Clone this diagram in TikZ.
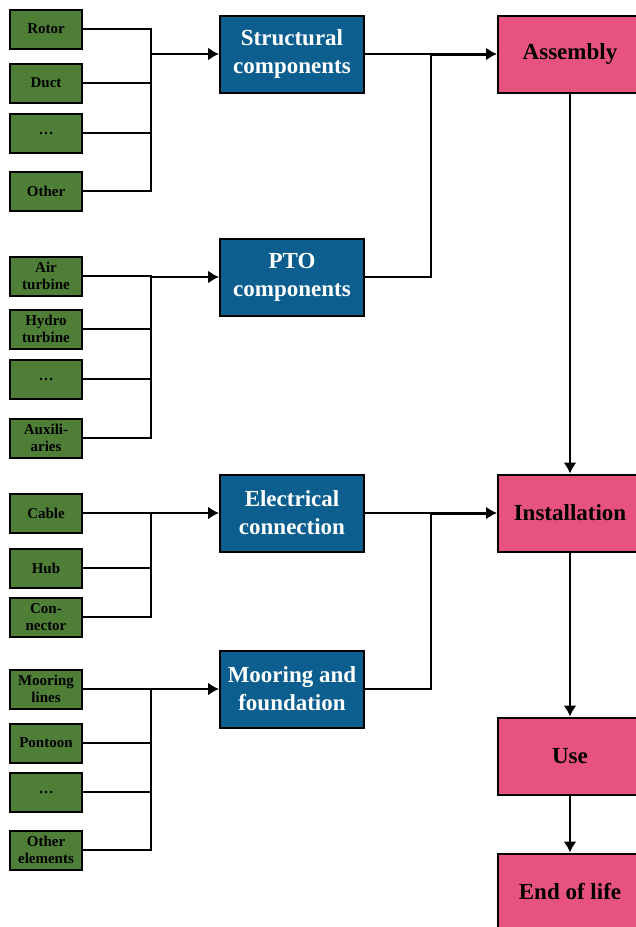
\documentclass[tikz,border=0pt]{standalone}
\usepackage{fontspec}
\setmainfont{Liberation Serif}
\usetikzlibrary{arrows.meta,positioning}
\usepackage{xcolor}
\definecolor{partgreen}{RGB}{79,127,55}
\definecolor{groupblue}{RGB}{11,94,142}
\definecolor{stagepink}{RGB}{232,82,127}

\begin{document}
\begin{tikzpicture}[x=1pt, y=-1pt]
\tikzset{
    partbox/.style={rectangle, draw=black, fill=partgreen, line width=2pt, minimum width=72pt, minimum height=39pt, inner sep=1pt, align=center, font=\fontsize{15}{17}\selectfont\bfseries},
    groupbox/.style={rectangle, draw=black, fill=groupblue, text=white, line width=2pt, minimum width=144pt, minimum height=77pt, inner sep=2pt, align=center, font=\fontsize{23}{28}\selectfont\bfseries},
    stagebox/.style={rectangle, draw=black, fill=stagepink, line width=2pt, minimum width=144pt, minimum height=77pt, align=center, font=\fontsize{23}{28}\selectfont\bfseries},
    myline/.style={line width=2pt},
    myarrow/.style={-{Latex[length=11pt,width=13pt]}, line width=2pt}
}
\clip (0,0) rectangle (636,927);

% structural parts
\node[partbox] (rotor) at (46,29) {Rotor};
\node[partbox] (duct) at (46,83) {Duct};
\node[partbox] (sdots) at (46,133) {\dots};
\node[partbox] (sother) at (46,191) {Other};
% PTO parts
\node[partbox] (airturb) at (46,276) {Air\\turbine};
\node[partbox] (hydroturb) at (46,329) {Hydro\\turbine};
\node[partbox] (pdots) at (46,379) {\dots};
\node[partbox] (auxil) at (46,438) {Auxili-\\aries};
% electrical parts
\node[partbox] (cable) at (46,513) {Cable};
\node[partbox] (hub) at (46,568) {Hub};
\node[partbox] (connector) at (46,617) {Con-\\nector};
% mooring parts
\node[partbox] (moorlines) at (46,689) {Mooring\\lines};
\node[partbox] (pontoon) at (46,743) {Pontoon};
\node[partbox] (mdots) at (46,792) {\dots};
\node[partbox] (mother) at (46,850) {Other\\elements};

\node[groupbox] (structural) at (292,54) {Structural\\components};
\node[groupbox] (pto) at (292,277) {PTO\\components};
\node[groupbox] (electrical) at (292,513) {Electrical\\connection};
\node[groupbox] (mooring) at (292,689) {Mooring and\\foundation};

\node[stagebox] (assembly) at (570,54) {Assembly};
\node[stagebox] (installation) at (570,513) {Installation};
\node[stagebox] (use) at (570,756) {Use};
\node[stagebox] (endlife) at (570,892) {End of life};

\coordinate (sbus) at (151,54);
\coordinate (pbus) at (151,277);
\coordinate (ebus) at (151,513);
\coordinate (mbus) at (151,689);
\coordinate (ajoin) at (431,54);
\coordinate (ijoin) at (431,513);

% parts to groups
\draw[myline] (rotor.east) -- (rotor.east -| sbus) -- (sother.east -| sbus) -- (sother.east);
\draw[myline] (duct.east) -- (duct.east -| sbus);
\draw[myline] (sdots.east) -- (sdots.east -| sbus);
\draw[myarrow] (sbus) -- (structural.west);

\draw[myline] (airturb.east) -- (airturb.east -| pbus) -- (auxil.east -| pbus) -- (auxil.east);
\draw[myline] (hydroturb.east) -- (hydroturb.east -| pbus);
\draw[myline] (pdots.east) -- (pdots.east -| pbus);
\draw[myarrow] (pbus) -- (pto.west);

\draw[myline] (cable.east) -- (cable.east -| ebus) -- (connector.east -| ebus) -- (connector.east);
\draw[myline] (hub.east) -- (hub.east -| ebus);
\draw[myarrow] (ebus) -- (electrical.west);

\draw[myline] (moorlines.east) -- (moorlines.east -| mbus) -- (mother.east -| mbus) -- (mother.east);
\draw[myline] (pontoon.east) -- (pontoon.east -| mbus);
\draw[myline] (mdots.east) -- (mdots.east -| mbus);
\draw[myarrow] (mbus) -- (mooring.west);

% groups to stages
\draw[myline] (structural.east) -- (ajoin);
\draw[myline] (pto.east) -| (ajoin);
\draw[myarrow, line width=3pt] (ajoin) -- (assembly.west);
\draw[myline] (electrical.east) -- (ijoin);
\draw[myline] (mooring.east) -| (ijoin);
\draw[myarrow, line width=3pt] (ijoin) -- (installation.west);

\draw[myarrow] (assembly.south) -- (installation.north);
\draw[myarrow] (installation.south) -- (use.north);
\draw[myarrow] (use.south) -- (endlife.north);
\end{tikzpicture}
\end{document}
